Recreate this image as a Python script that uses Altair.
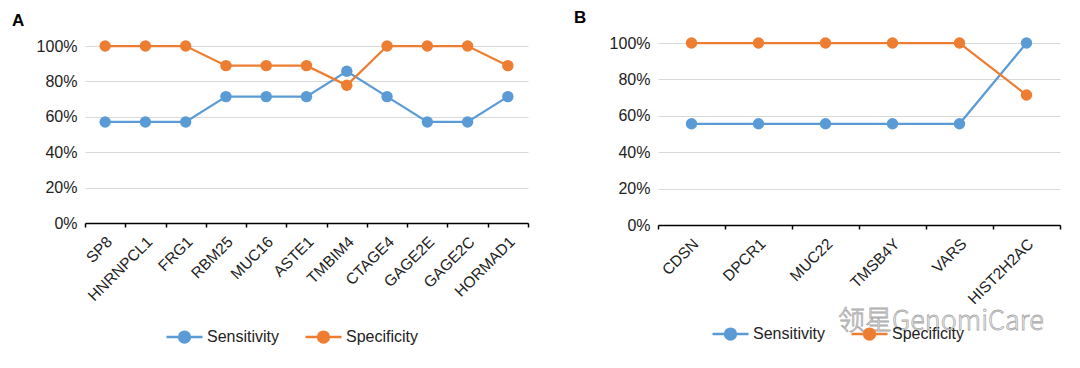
import altair as alt
import pandas as pd

genes_a = ["SP8", "HNRNPCL1", "FRG1", "RBM25", "MUC16", "ASTE1", "TMBIM4",
           "CTAGE4", "GAGE2E", "GAGE2C", "HORMAD1"]
sens_a = [0.571, 0.571, 0.571, 0.714, 0.714, 0.714, 0.857, 0.714, 0.571, 0.571, 0.714]
spec_a = [1.0, 1.0, 1.0, 0.889, 0.889, 0.889, 0.778, 1.0, 1.0, 1.0, 0.889]

genes_b = ["CDSN", "DPCR1", "MUC22", "TMSB4Y", "VARS", "HIST2H2AC"]
sens_b = [0.556, 0.556, 0.556, 0.556, 0.556, 1.0]
spec_b = [1.0, 1.0, 1.0, 1.0, 1.0, 0.714]

series = ["Sensitivity", "Specificity"]
colors = ["#5b9bd5", "#ed7d31"]
y_ticks = [0, 0.2, 0.4, 0.6, 0.8, 1.0]
watermark = ["领星GenomiCare"]

FONT = "Liberation Sans"
TXT = "#222222"
SYMBOL = "M-1,0L1,0M-0.3,0A0.3,0.3,0,1,0,0.3,0A0.3,0.3,0,1,0,-0.3,0Z"


def long_df(genes, sens, spec):
    rows = []
    for g, v in zip(genes, sens):
        rows.append({"gene": g, "series": "Sensitivity", "value": v})
    for g, v in zip(genes, spec):
        rows.append({"gene": g, "series": "Specificity", "value": v})
    return pd.DataFrame(rows)


def panel(genes, sens, spec, letter, h, y_range, title_dx, leg_x, leg_y):
    df = long_df(genes, sens, spec)
    x = alt.X("gene:N", sort=genes,
              scale=alt.Scale(type="band", paddingInner=0, paddingOuter=0),
              axis=alt.Axis(title=None, labelAngle=-45, labelAlign="right",
                            labelBaseline="top", labelFontSize=15.5, labelPadding=7,
                            labelOffset=-1,
                            tickBand="extent", tickSize=4, tickColor="black",
                            tickWidth=1.5, domainColor="black", domainWidth=1.5,
                            grid=False, labelColor=TXT, labelFont=FONT,
                            labelOverlap=False, labelLimit=300, labelBound=False,
                            zindex=2))
    y = alt.Y("value:Q", scale=alt.Scale(domain=[0, 1], nice=False, range=y_range),
              axis=alt.Axis(title=None, values=y_ticks, format=".0%", grid=True,
                            gridColor="#d9d9d9", gridWidth=1, domain=False,
                            ticks=False, labelFontSize=16, labelPadding=8,
                            labelColor=TXT, labelFont=FONT))
    sc = alt.Scale(domain=series, range=colors)
    leg = alt.Legend(title=None, orient="none", legendX=leg_x, legendY=leg_y,
                     direction="horizontal", symbolType=SYMBOL, symbolSize=1296,
                     symbolStrokeWidth=2.5, labelFontSize=16, labelFont=FONT,
                     labelColor=TXT, columnPadding=20, labelOffset=3)
    line = alt.Chart(df).mark_line(strokeWidth=2.25).encode(
        x=x, y=y, stroke=alt.Stroke("series:N", scale=sc, legend=leg))
    pts = alt.Chart(df).mark_point(filled=True, size=130, opacity=1).encode(
        x=x, y=y, fill=alt.Fill("series:N", scale=sc, legend=leg))
    title = alt.TitleParams(letter, anchor="start", frame="group", dx=title_dx,
                            dy=-3, fontSize=17, fontWeight="bold", font=FONT,
                            offset=5, color="black")
    return line, pts, title


la, pa, ta = panel(genes_a, sens_a, spec_a, "A", 177, [177, 0], -73, 80, 271.5)
lb, pb, tb = panel(genes_b, sens_b, spec_b, "B", 179, [179, -3], -84, 53, 268.5)

wm = alt.Chart(pd.DataFrame({"t": watermark})).mark_text(
    align="left", baseline="middle", fontSize=27, font="Noto Sans CJK SC",
    fontWeight=300, fill="white", fillOpacity=0.6, stroke="#a8a8a8",
    strokeWidth=0.8).encode(x=alt.value(180), y=alt.value(276), text="t:N")

chart_a = alt.layer(la, pa).properties(width=443, height=177, title=ta)
chart_b = alt.layer(lb, pb, wm).properties(width=402, height=179, title=tb)

chart = alt.hconcat(chart_a, chart_b, spacing=45).resolve_scale(
    stroke="independent", fill="independent"
).configure_view(stroke=None).properties(padding={"left": 4, "top": 1, "right": 5, "bottom": 0})

chart.save("out.html", embed_options={"renderer": "svg", "actions": False})
